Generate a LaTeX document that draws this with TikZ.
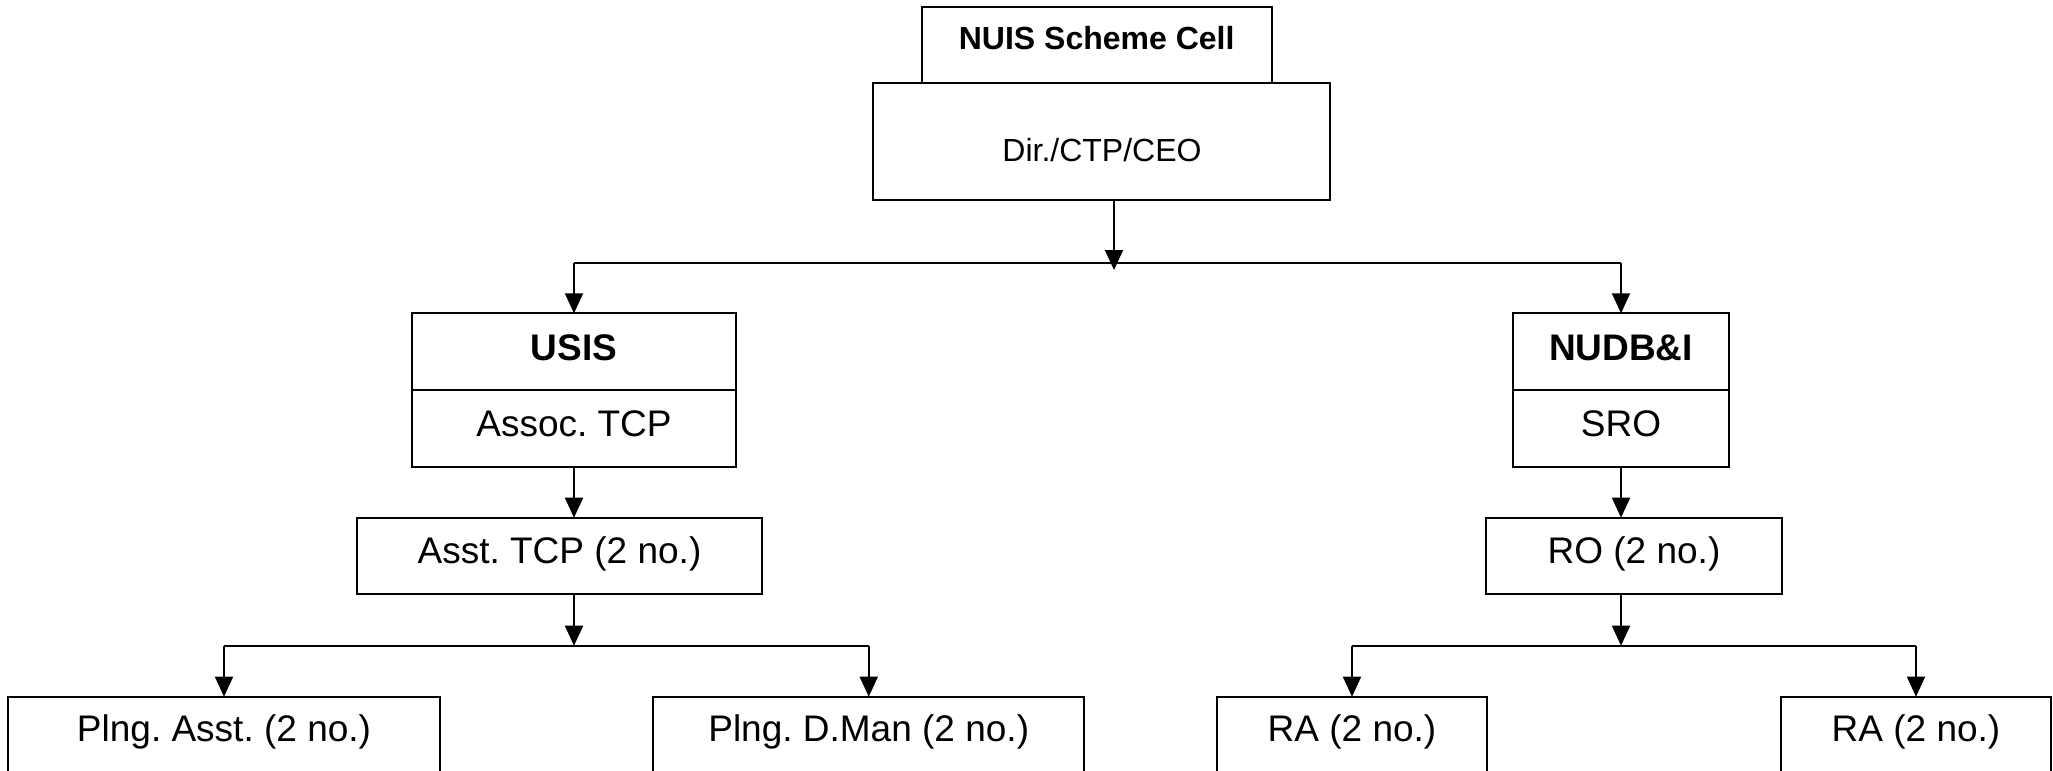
\documentclass[tikz,border=0pt]{standalone}
\usepackage{fontspec}
\setmainfont{Liberation Sans}
\usetikzlibrary{arrows.meta}
\begin{document}
\frenchspacing
\begin{tikzpicture}[x=0.5pt,y=-0.5pt,
  box/.style={draw=black,line width=0.9pt,inner sep=0pt,outer sep=0pt,fill=white},
  txt/.style={inner sep=0pt,outer sep=0pt,anchor=base,font=\fontsize{18.5}{22}\selectfont},
  txtsmall/.style={txt,font=\fontsize{16}{19}\selectfont},
  conn/.style={line width=0.9pt},
  arr/.style={line width=0.9pt,-{Triangle[length=10pt,width=9pt]}}]
\useasboundingbox (0,0) rectangle (2053,771);
\clip (0,0) rectangle (2053,771);
\fill[white] (0,0) rectangle (2053,771);
% boxes
\node[box,minimum width=228.5pt,minimum height=58.5pt] (dir) at (1101.5,141.5) {};
\node[box,minimum width=175pt,minimum height=37.85pt] (nuis) at (1096.7,45.15) {};
\node[box,minimum width=162pt,minimum height=76.7pt] (usis) at (574,390) {};
\node[box,minimum width=108pt,minimum height=76.7pt] (nudb) at (1621,390) {};
\node[box,minimum width=202.5pt,minimum height=38.3pt] (asst) at (559.5,556) {};
\node[box,minimum width=148pt,minimum height=38.3pt] (ro) at (1634,556) {};
\node[box,minimum width=216pt,minimum height=51.65pt] (pa) at (224,748.35) {};
\node[box,minimum width=215.5pt,minimum height=51.65pt] (pd) at (868.75,748.35) {};
\node[box,minimum width=135pt,minimum height=51.65pt] (ra1) at (1352,748.35) {};
\node[box,minimum width=135pt,minimum height=51.65pt] (ra2) at (1916,748.35) {};
% dividers
\draw[conn] (usis.west) -- (usis.east);
\draw[conn] (nudb.west) -- (nudb.east);
% texts
\node[txtsmall,font=\fontsize{16}{19}\selectfont\bfseries] (tnuis) at (1096.7,49.3) {NUIS Scheme Cell};
\node[txtsmall] (tdir) at (1102,161.7) {Dir./CTP/CEO};
\node[txt,font=\fontsize{18.5}{22}\selectfont\bfseries] (tusis) at (574,360) {USIS};
\node[txt] (tassoc) at (574,436) {Assoc. TCP};
\node[txt,font=\fontsize{18.5}{22}\selectfont\bfseries] (tnudb) at (1621,360) {NUDB\&I};
\node[txt] (tsro) at (1621,436) {SRO};
\node[txt] (tasst) at (559.5,563.3) {Asst. TCP (2 no.)};
\node[txt] (tro) at (1634,563.3) {RO (2 no.)};
\node[txt] (tpa) at (224,741.7) {Plng. Asst. (2 no.)};
\node[txt] (tpd) at (868.75,741.7) {Plng. D.Man (2 no.)};
\node[txt] (tra1) at (1352,741.7) {RA (2 no.)};
\node[txt] (tra2) at (1916,741.7) {RA (2 no.)};
% connectors
\coordinate (jtop) at (1114,263);
\coordinate (tiptop) at (1114,270);
\draw[arr] (dir.south -| tiptop) -- (tiptop);
\draw[conn] (usis.north |- jtop) -- (nudb.north |- jtop);
\draw[arr] (usis.north |- jtop) -- (usis.north);
\draw[arr] (nudb.north |- jtop) -- (nudb.north);
\draw[arr] (usis.south) -- (asst.north -| usis.south);
\draw[arr] (nudb.south) -- (ro.north -| nudb.south);
\coordinate (jl) at (574,645.7);
\coordinate (jr) at (1621,645.7);
\draw[arr] (asst.south -| jl) -- (jl);
\draw[arr] (ro.south -| jr) -- (jr);
\draw[conn] (pa.north |- jl) -- (pd.north |- jl);
\draw[conn] (ra1.north |- jr) -- (ra2.north |- jr);
\draw[arr] (pa.north |- jl) -- (pa.north);
\draw[arr] (pd.north |- jl) -- (pd.north);
\draw[arr] (ra1.north |- jr) -- (ra1.north);
\draw[arr] (ra2.north |- jr) -- (ra2.north);
\end{tikzpicture}
\end{document}
